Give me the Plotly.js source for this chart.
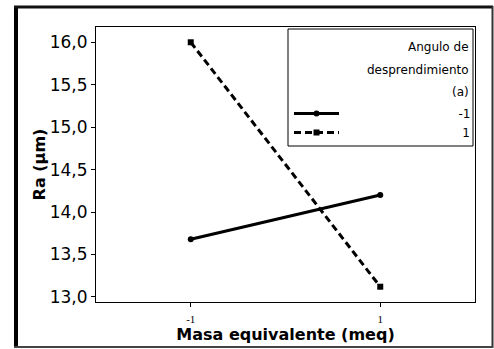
<!DOCTYPE html>
<html>
<head>
<meta charset="utf-8">
<script src="https://cdn.plot.ly/plotly-3.0.1.min.js"></script>
<style>html,body{margin:0;padding:0;background:#fff;}#chart{width:494px;height:349px;}</style>
</head>
<body>
<div id="chart"></div>
<script>
// Data
const xLevels = [-1, 1];
const xTickLabels = ['-1', '1'];
const seriesNames = ['-1', '1'];
const raAngleMinus1 = [13.68, 14.2];
const raAnglePlus1 = [16.0, 13.12];
const yTicks = [13.0, 13.5, 14.0, 14.5, 15.0, 15.5, 16.0];
const legendTitleLines = ['Angulo de', 'desprendimiento', '(a)'];

const W = 494, H = 349;
const M = {l: 96, r: 19, t: 27, b: 47};
const pw = W - M.l - M.r, ph = H - M.t - M.b;
const px = v => (v - M.l) / pw;
const py = v => (H - M.b - v) / ph;
const pad = (s, n) => '\u00A0'.repeat(n) + s;

const traces = [
  {
    x: xLevels, y: raAngleMinus1, name: pad(seriesNames[0], 30),
    type: 'scatter', mode: 'lines+markers',
    line: {color: '#000', width: 3},
    marker: {symbol: 'circle', size: 6, color: '#000'}
  },
  {
    x: xLevels, y: raAnglePlus1, name: pad(seriesNames[1], 31),
    type: 'scatter', mode: 'lines+markers',
    line: {color: '#000', width: 3, dash: '7px,4px'},
    marker: {symbol: 'square', size: 6, color: '#000'}
  }
];

const font = 'DejaVu Sans, Verdana, sans-serif';
const annotations = legendTitleLines.map((t, i) => ({
  xref: 'paper', yref: 'paper', x: px(471), y: py(47 + i * 22.5),
  xanchor: 'right', yanchor: 'middle', showarrow: false,
  text: t, font: {family: font, size: 12, color: '#000'}
}));

const layout = {
  width: W, height: H,
  margin: M,
  paper_bgcolor: '#fff', plot_bgcolor: '#fff',
  separators: ',.',
  showlegend: true,
  font: {family: font, color: '#000'},
  xaxis: {
    range: [-2, 2], tickvals: xLevels, ticktext: xTickLabels,
    ticks: 'outside', ticklen: 4, tickcolor: '#000',
    ticklabelstandoff: 3,
    showgrid: false, zeroline: false,
    showline: true, linecolor: '#000', linewidth: 1, mirror: true,
    tickfont: {family: 'Liberation Serif, serif', size: 11, color: '#000'},
    title: {text: 'Masa equivalente (meq)', standoff: 0,
            font: {family: font, size: 16, color: '#000', weight: 'bold'}}
  },
  yaxis: {
    range: [12.94, 16.18], tickvals: yTicks, tickformat: '.1f',
    ticks: 'outside', ticklen: 4, tickcolor: '#000',
    showgrid: false, zeroline: false,
    showline: true, linecolor: '#000', linewidth: 1, mirror: true,
    tickfont: {family: font, size: 17, color: '#000'},
    title: {text: 'Ra (µm)', standoff: 0,
            font: {family: font, size: 16, color: '#000', weight: 'bold'}}
  },
  legend: {
    x: px(476), y: py(99), xanchor: 'right', yanchor: 'top',
    bgcolor: 'rgba(0,0,0,0)', borderwidth: 0,
    font: {family: font, size: 12, color: '#000'},
    itemwidth: 45, tracegroupgap: 0
  },
  annotations: annotations,
  shapes: [
    // legend frame
    {type: 'rect', xref: 'paper', yref: 'paper', x0: px(288), x1: px(473), y0: py(146), y1: py(29),
     line: {color: '#000', width: 1}, fillcolor: 'rgba(0,0,0,0)'},
    // outer frame
    {type: 'line', xref: 'paper', yref: 'paper', x0: px(16), x1: px(16), y0: py(6), y1: py(348),
     line: {color: '#000', width: 4}},
    {type: 'line', xref: 'paper', yref: 'paper', x0: px(14), x1: px(493), y0: py(7), y1: py(7),
     line: {color: '#111', width: 3}},
    {type: 'line', xref: 'paper', yref: 'paper', x0: px(492.5), x1: px(492.5), y0: py(6), y1: py(348),
     line: {color: '#333', width: 2}},
    {type: 'line', xref: 'paper', yref: 'paper', x0: px(14), x1: px(493), y0: py(347), y1: py(347),
     line: {color: '#444', width: 2}}
  ]
};

Plotly.newPlot('chart', traces, layout, {displayModeBar: false, staticPlot: true});
</script>
</body>
</html>
